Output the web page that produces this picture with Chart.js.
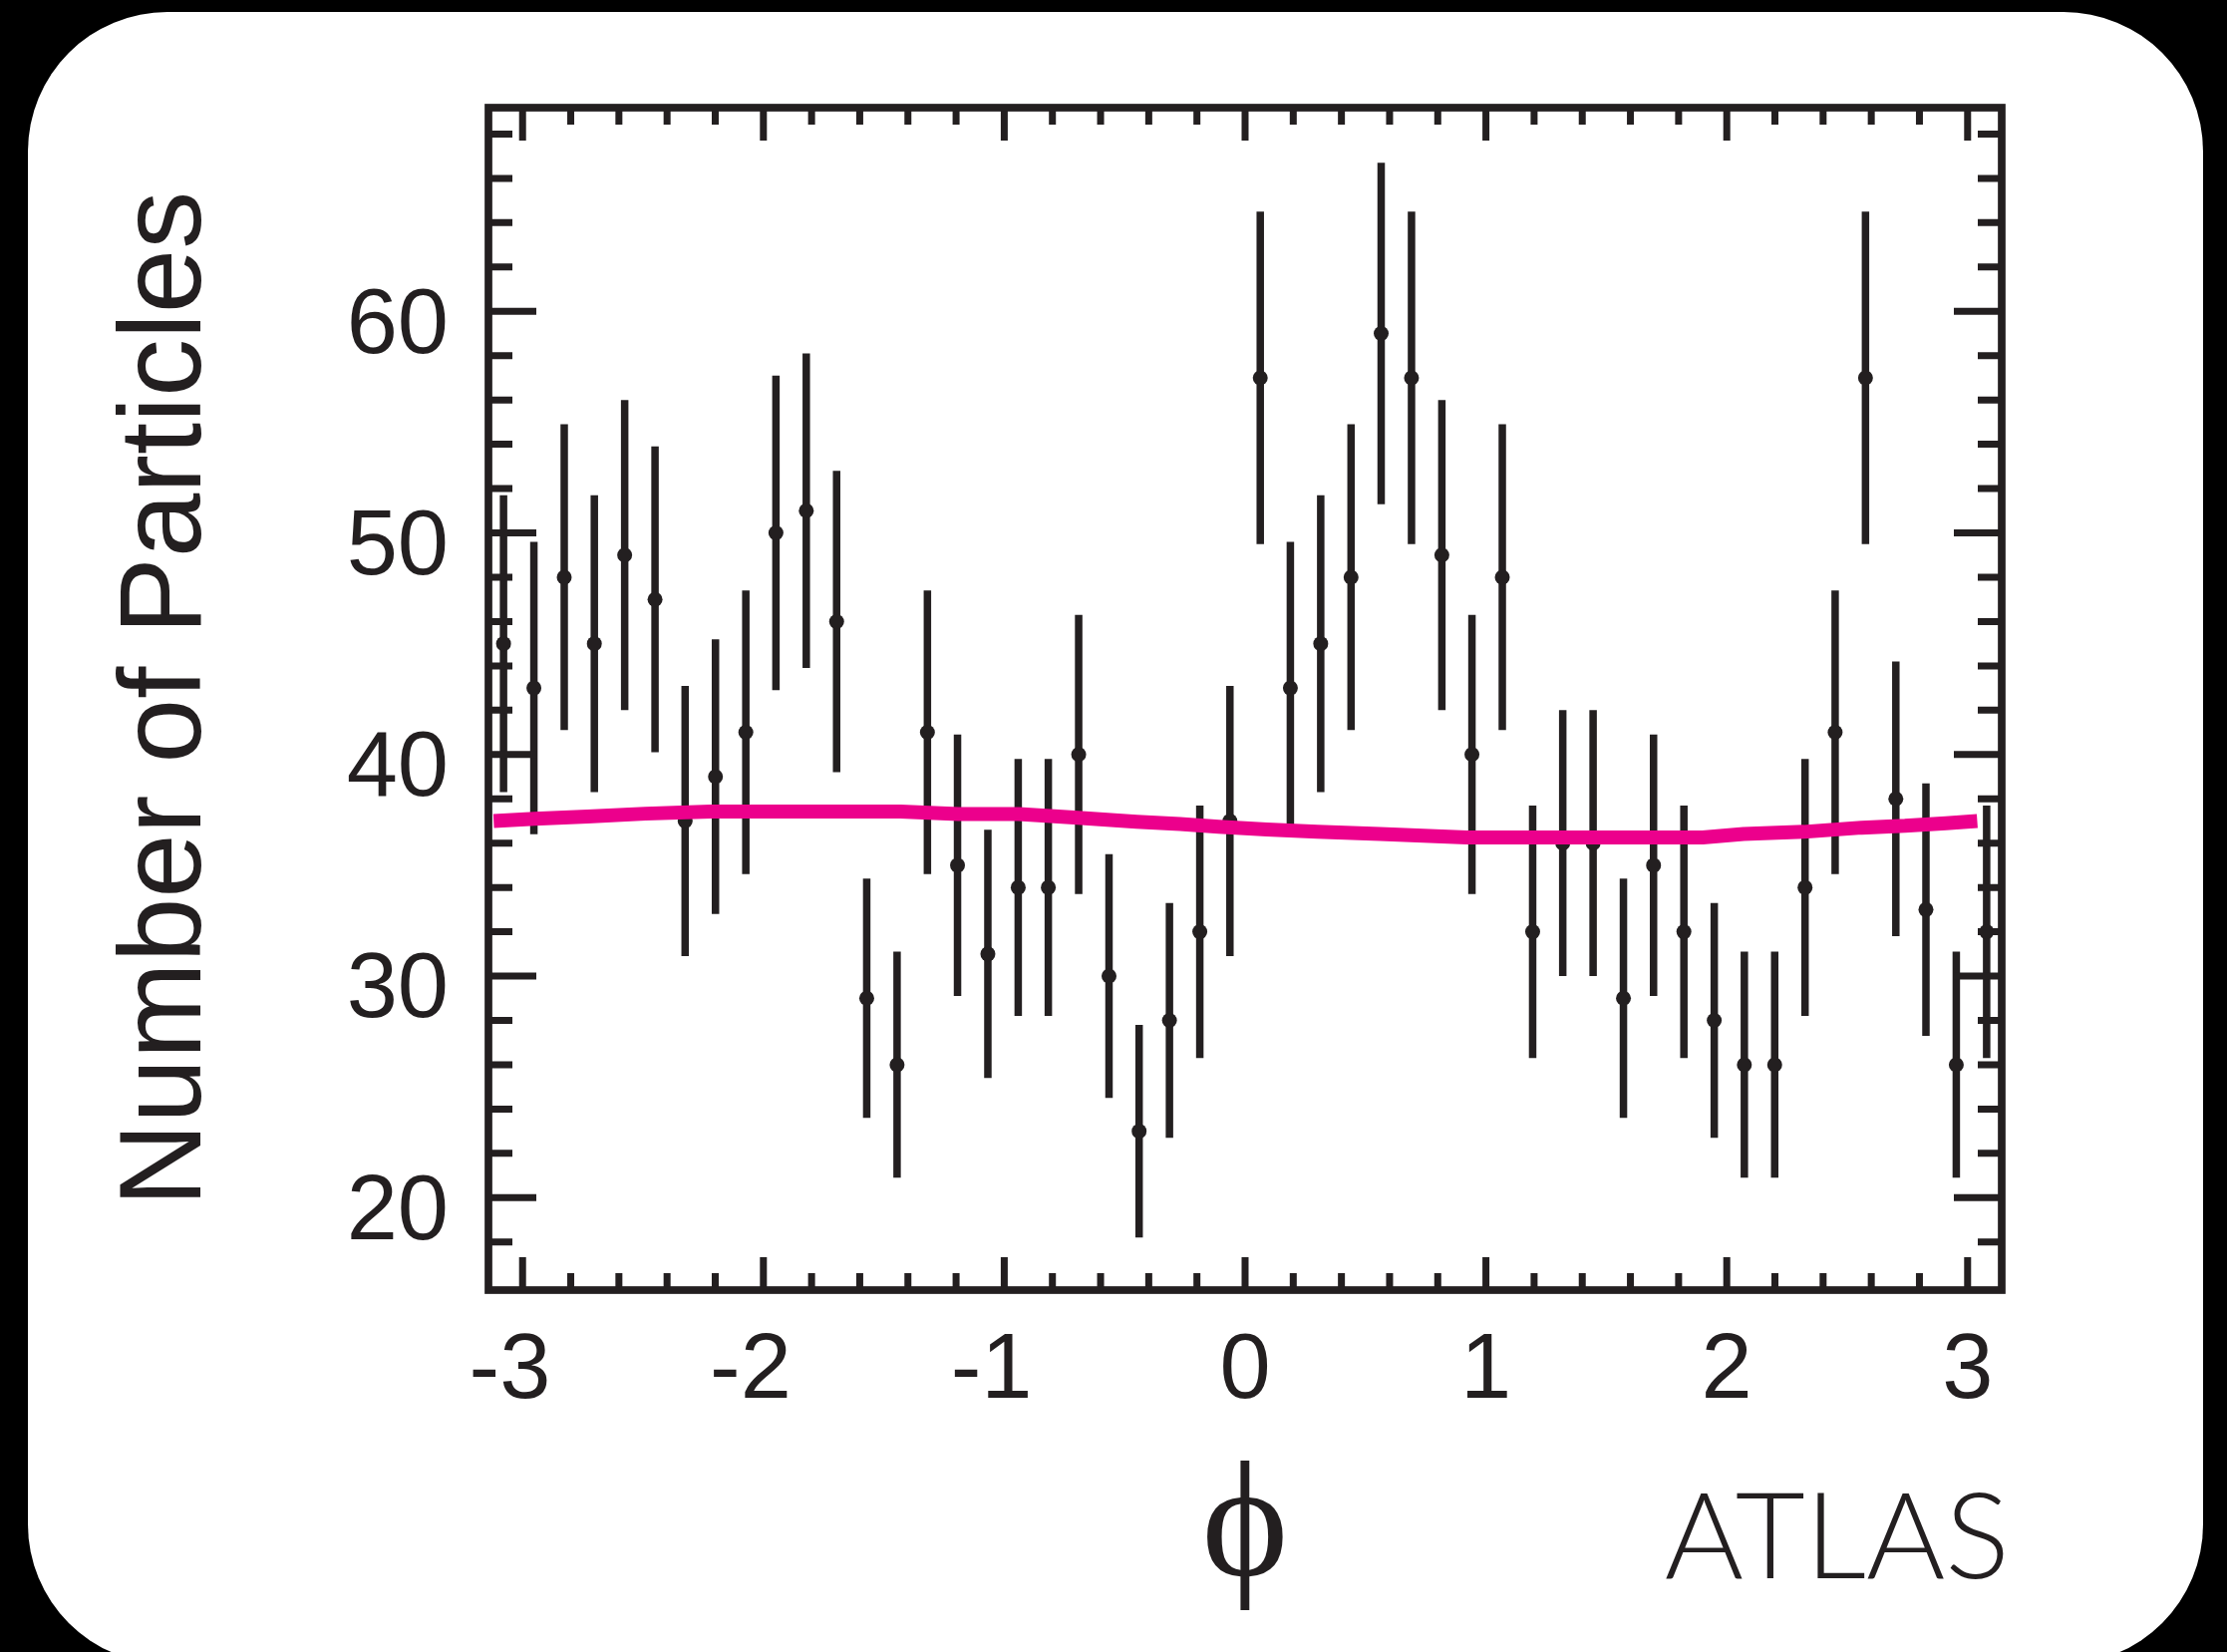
<!DOCTYPE html>
<html>
<head>
<meta charset="utf-8">
<script src="https://cdn.jsdelivr.net/npm/chart.js@4.4.1/dist/chart.umd.min.js"></script>
<style>
html,body{margin:0;padding:0;background:#000;width:2234px;height:1657px;overflow:hidden;}
#card{position:absolute;left:28px;top:12px;width:2182px;height:1657px;background:#fff;border-radius:140px;}
#c{position:absolute;left:0;top:0;}
</style>
</head>
<body>
<div id="card"></div>
<canvas id="c" width="2234" height="1657"></canvas>
<script>
// ---- data ----
const phiCentres = [-3.079,-2.953,-2.827,-2.702,-2.576,-2.450,-2.325,-2.199,-2.073,-1.948,
  -1.822,-1.696,-1.571,-1.445,-1.319,-1.194,-1.068,-0.942,-0.817,-0.691,
  -0.565,-0.440,-0.314,-0.188,-0.063,0.063,0.188,0.314,0.440,0.565,
  0.691,0.817,0.942,1.068,1.194,1.319,1.445,1.571,1.696,1.822,
  1.948,2.073,2.199,2.325,2.450,2.576,2.702,2.827,2.953,3.079];
const particleCounts = [45,43,48,45,49,47,37,39,41,50,
  51,46,29,26,41,35,31,34,34,40,
  30,23,28,32,37,57,43,45,48,59,
  57,49,40,48,32,36,36,29,35,32,
  28,26,26,34,41,57,38,33,26,32];
const countErrors = [6.7,6.6,6.9,6.7,7.0,6.9,6.1,6.2,6.4,7.1,
  7.1,6.8,5.4,5.1,6.4,5.9,5.6,5.8,5.8,6.3,
  5.5,4.8,5.3,5.7,6.1,7.5,6.6,6.7,6.9,7.7,
  7.5,7.0,6.3,6.9,5.7,6.0,6.0,5.4,5.9,5.7,
  5.3,5.1,5.1,5.8,6.4,7.5,6.2,5.7,5.1,5.7];
const fitPhi = [-3.12,-2.95,-2.73,-2.49,-2.22,-1.43,-1.19,-0.94,-0.71,-0.45,-0.27,-0.11,
  0.09,0.30,0.56,0.92,1.90,2.07,2.32,2.56,2.74,2.91,3.04];
const fitCounts = [37.0,37.1,37.2,37.33,37.43,37.43,37.31,37.31,37.16,36.96,36.86,36.74,
  36.62,36.51,36.41,36.26,36.26,36.41,36.51,36.7,36.78,36.9,37.0];
const xTickValues = [-3,-2,-1,0,1,2,3];
const yTickValues = [20,30,40,50,60];
const xTitle = '\u03D5';
const yTitle = 'Number of Particles';
const cornerText = 'ATLAS';

// ---- styling ----
const INK = '#231f20';
const MAGENTA = '#ec008c';

const errorBars = {
  id: 'errorBars',
  beforeDatasetsDraw(chart) {
    const {ctx, chartArea: a, scales: {x, y}} = chart;
    ctx.save();
    ctx.beginPath();
    ctx.rect(a.left, a.top, a.right - a.left, a.bottom - a.top);
    ctx.clip();
    ctx.strokeStyle = INK;
    ctx.lineWidth = 7.5;
    ctx.lineCap = 'butt';
    phiCentres.forEach((p, i) => {
      const px = x.getPixelForValue(p);
      ctx.beginPath();
      ctx.moveTo(px, y.getPixelForValue(particleCounts[i] - countErrors[i]));
      ctx.lineTo(px, y.getPixelForValue(particleCounts[i] + countErrors[i]));
      ctx.stroke();
    });
    ctx.restore();
  }
};

const frameTicks = {
  id: 'frameTicks',
  afterDatasetsDraw(chart) {
    const {ctx, chartArea: a, scales: {x, y}} = chart;
    ctx.save();
    ctx.strokeStyle = INK;
    ctx.lineCap = 'butt';
    ctx.lineWidth = 7;
    const xTick = (v, len) => {
      const px = x.getPixelForValue(v);
      ctx.beginPath();
      ctx.moveTo(px, a.top); ctx.lineTo(px, a.top + len);
      ctx.moveTo(px, a.bottom); ctx.lineTo(px, a.bottom - len);
      ctx.stroke();
    };
    const yTick = (v, len) => {
      const py = y.getPixelForValue(v);
      ctx.beginPath();
      ctx.moveTo(a.left, py); ctx.lineTo(a.left + len, py);
      ctx.moveTo(a.right, py); ctx.lineTo(a.right - len, py);
      ctx.stroke();
    };
    for (let k = -15; k <= 15; k++) {
      const v = k / 5;
      if (k % 5 !== 0) xTick(v, 17);
    }
    xTickValues.forEach(v => xTick(v, 33));
    for (let v = 18; v <= 68; v += 2) {
      if (v % 10 !== 0) yTick(v, 24);
    }
    yTickValues.forEach(v => yTick(v, 48));
    ctx.lineWidth = 7.7;
    ctx.lineJoin = 'miter';
    ctx.strokeRect(a.left, a.top, a.right - a.left, a.bottom - a.top);
    ctx.restore();
  }
};

const cornerLabel = {
  id: 'cornerLabel',
  afterDraw(chart) {
    const {ctx, chartArea: a} = chart;
    ctx.save();
    ctx.fillStyle = INK;
    ctx.font = '300 121px Lato, "Liberation Sans", sans-serif';
    ctx.textAlign = 'right';
    ctx.textBaseline = 'alphabetic';
    ctx.fillText(cornerText, a.right + 8, 1583);
    ctx.restore();
  }
};

const tickFont = {family: '"Liberation Sans", Arial, sans-serif', size: 92};

new Chart(document.getElementById('c'), {
  type: 'scatter',
  data: {
    datasets: [
      {
        type: 'line',
        data: fitPhi.map((p, i) => ({x: p, y: fitCounts[i]})),
        borderColor: MAGENTA,
        borderWidth: 14,
        pointRadius: 0,
        tension: 0,
        fill: false,
        borderCapStyle: 'butt',
        borderJoinStyle: 'round',
        order: 0
      },
      {
        data: phiCentres.map((p, i) => ({x: p, y: particleCounts[i]})),
        backgroundColor: INK,
        borderWidth: 0,
        pointRadius: 7.5,
        pointHoverRadius: 7.5,
        order: 1
      }
    ]
  },
  options: {
    responsive: false,
    animation: false,
    devicePixelRatio: 1,
    events: [],
    layout: {padding: {left: 0, top: 108, right: 226, bottom: 0}},
    plugins: {legend: {display: false}, tooltip: {enabled: false}},
    scales: {
      x: {
        type: 'linear',
        min: -Math.PI,
        max: Math.PI,
        afterBuildTicks: s => { s.ticks = xTickValues.map(v => ({value: v})); },
        afterFit: s => { s.height = 363; },
        grid: {display: false, drawTicks: false},
        border: {display: false},
        ticks: {
          font: tickFont,
          color: INK,
          padding: 27,
          maxRotation: 0,
          autoSkip: false,
          callback: v => (v < 0 ? '-' + Math.abs(v) + '\u00a0' : String(v))
        },
        title: {
          display: true,
          text: xTitle,
          color: INK,
          font: {family: '"Liberation Serif", "DejaVu Serif", serif', size: 165},
          padding: {top: 0, bottom: 21}
        }
      },
      y: {
        type: 'linear',
        min: 15.83,
        max: 69.19,
        afterBuildTicks: s => { s.ticks = yTickValues.map(v => ({value: v})); },
        afterFit: s => { s.width = 490; },
        grid: {display: false, drawTicks: false},
        border: {display: false},
        ticks: {
          font: tickFont,
          color: INK,
          padding: 40,
          labelOffset: 16,
          autoSkip: false
        },
        title: {
          display: true,
          text: yTitle,
          color: INK,
          font: {family: '"Liberation Sans", Arial, sans-serif', size: 116},
          padding: {top: 99, bottom: 0}
        }
      }
    }
  },
  plugins: [errorBars, frameTicks, cornerLabel]
});
</script>
</body>
</html>
